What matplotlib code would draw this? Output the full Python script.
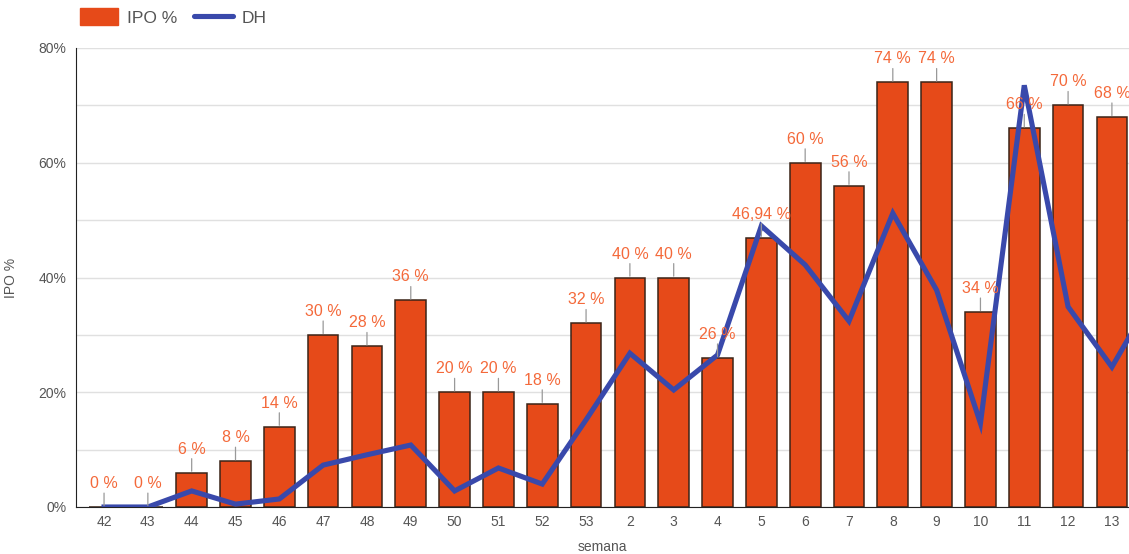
import matplotlib.pyplot as plt
import matplotlib.patches as mpatches
from matplotlib.lines import Line2D
import numpy as np

plt.rcParams['font.family'] = ['Liberation Sans', 'DejaVu Sans']

weeks = ["42", "43", "44", "45", "46", "47", "48", "49", "50", "51", "52", "53",
         "2", "3", "4", "5", "6", "7", "8", "9", "10", "11", "12", "13", "14"]
ipo = [0, 0, 6, 8, 14, 30, 28, 36, 20, 20, 18, 32,
       40, 40, 26, 46.94, 60, 56, 74, 74, 34, 66, 70, 68, np.nan]
ipo_labels = ["0 %", "0 %", "6 %", "8 %", "14 %", "30 %", "28 %", "36 %", "20 %", "20 %", "18 %", "32 %",
              "40 %", "40 %", "26 %", "46,94 %", "60 %", "56 %", "74 %", "74 %", "34 %", "66 %", "70 %", "68 %", ""]
dh = [0, 0, 2.8, 0.5, 1.4, 7.3, 9.1, 10.8, 2.8, 6.8, 4.0, 15.2,
      26.8, 20.4, 26.5, 49.0, 42.2, 32.4, 51.2, 37.8, 14.6, 73.5, 34.9, 24.4, 37.6]

BAR = "#e64a19"
LINE = "#3949ab"
LABEL = "#f4693a"
TXT = "#555555"

fig = plt.figure(figsize=(11.29, 5.54), dpi=100)
ax = fig.add_axes([76 / 1129, 47 / 554, 1 - 76 / 1129, 459 / 554])

x = np.arange(len(weeks))
ax.bar(x, ipo, width=0.7, color=BAR, edgecolor="#3b2418", linewidth=1.1, zorder=2)
ax.plot(x, dh, color=LINE, linewidth=3.7, solid_joinstyle="miter", zorder=3)

for i, (v, lab) in enumerate(zip(ipo, ipo_labels)):
    if np.isnan(v):
        continue
    ax.annotate("", xy=(i, v), xytext=(0, 10), textcoords="offset points",
                arrowprops=dict(arrowstyle="-", color="#999999", lw=0.9,
                                shrinkA=0, shrinkB=1), zorder=4)
    ax.annotate(lab, xy=(i, v), xytext=(0, 11.5), textcoords="offset points",
                ha="center", va="bottom", color=LABEL, fontsize=11.5, zorder=5)

ax.set_xlim(-0.64, 23.39)
ax.set_ylim(0, 80)
ax.set_yticks(np.arange(0, 81, 10))
ax.set_yticklabels([f"{t}%" if t % 20 == 0 else "" for t in range(0, 81, 10)])
ax.set_xticks(x[:-1])
ax.set_xticklabels(weeks[:-1])
ax.tick_params(axis="both", length=0, colors=TXT, labelsize=10)
ax.tick_params(axis="x", pad=6)
ax.tick_params(axis="y", pad=7)
ax.grid(axis="y", color="#e0e0e0", linewidth=1, zorder=0)
ax.set_axisbelow(True)
for s in ["top", "right"]:
    ax.spines[s].set_visible(False)
ax.spines["left"].set_color("#222222")
ax.spines["bottom"].set_color("#222222")
ax.set_xlabel("semana", color=TXT, fontsize=10, labelpad=8)
ax.set_ylabel("IPO %", color=TXT, fontsize=10)
ax.yaxis.set_label_coords(-0.055, 0.5)

handles = [mpatches.FancyBboxPatch((0, 0), 1, 1, facecolor=BAR, edgecolor=BAR,
                                   boxstyle="round,pad=0.1"),
           Line2D([0], [0], color=LINE, linewidth=3.7, solid_capstyle="round")]
fig.legend(handles, ["IPO %", "DH"], loc="upper left", bbox_to_anchor=(0.057, 1.013),
           ncol=2, frameon=False, fontsize=12.5, labelcolor=TXT, handlelength=2.2,
           handleheight=1.1, columnspacing=1.0, handletextpad=0.5)

fig.savefig("out.png", dpi=100)
